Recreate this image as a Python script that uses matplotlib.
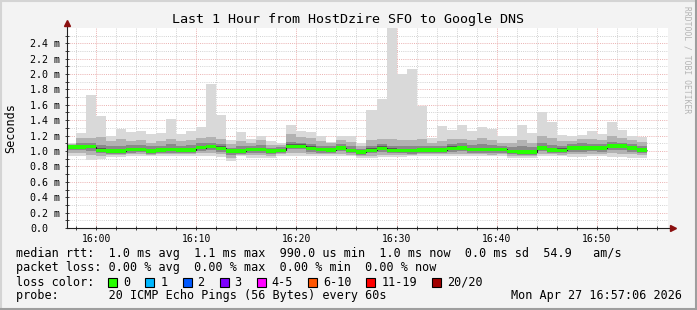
"""SmokePing style latency chart: last hour HostDzire SFO -> Google DNS.

Smoke bands are the spread of the 20 pings per round, green bar is the
median (colour = loss bucket 0).
"""
import numpy as np
import pandas as pd
import matplotlib
matplotlib.use("Agg")
import matplotlib.pyplot as plt
import matplotlib.dates as mdates
from matplotlib.lines import Line2D
from matplotlib.patches import Rectangle

TITLE = "Last 1 Hour from HostDzire SFO to Google DNS"
WINDOW_START = pd.Timestamp("2026-04-27 15:57:06")
WINDOW_END = pd.Timestamp("2026-04-27 16:57:06")
# end of each 60 s ping round; the first round is cut by the window start
ROUND_END = pd.date_range("2026-04-27 15:58", "2026-04-27 16:55", freq="min")

# rtt in ms, one value per round
rtt_max = [1.10, 1.24, 1.73, 1.45, 1.20, 1.29, 1.25, 1.26, 1.22, 1.23,
           1.42, 1.22, 1.26, 1.31, 1.87, 1.47, 1.14, 1.25, 1.15, 1.20,
           1.13, 1.10, 1.34, 1.26, 1.25, 1.20, 1.12, 1.20, 1.19, 1.10,
           1.53, 1.68, 2.75, 2.00, 2.06, 1.58, 1.17, 1.32, 1.27, 1.34,
           1.26, 1.31, 1.29, 1.20, 1.19, 1.34, 1.23, 1.51, 1.38, 1.21,
           1.19, 1.21, 1.26, 1.22, 1.38, 1.27, 1.20, 1.18]
rtt_p90 = [1.09, 1.17, 1.17, 1.18, 1.13, 1.15, 1.13, 1.14, 1.11, 1.13,
           1.16, 1.13, 1.14, 1.17, 1.18, 1.16, 1.09, 1.13, 1.11, 1.14,
           1.08, 1.08, 1.22, 1.18, 1.17, 1.13, 1.10, 1.14, 1.12, 1.07,
           1.14, 1.16, 1.15, 1.14, 1.14, 1.15, 1.11, 1.13, 1.15, 1.16,
           1.14, 1.17, 1.14, 1.11, 1.11, 1.14, 1.11, 1.19, 1.17, 1.13,
           1.13, 1.15, 1.15, 1.14, 1.20, 1.17, 1.14, 1.12]
rtt_p75 = [1.08, 1.10, 1.11, 1.08, 1.07, 1.07, 1.08, 1.08, 1.06, 1.07,
           1.09, 1.07, 1.08, 1.10, 1.11, 1.09, 1.04, 1.06, 1.07, 1.08,
           1.04, 1.05, 1.12, 1.11, 1.09, 1.07, 1.06, 1.09, 1.06, 1.03,
           1.07, 1.09, 1.07, 1.06, 1.06, 1.07, 1.06, 1.07, 1.09, 1.10,
           1.08, 1.09, 1.08, 1.07, 1.05, 1.06, 1.05, 1.11, 1.08, 1.07,
           1.09, 1.10, 1.09, 1.09, 1.12, 1.11, 1.09, 1.07]
rtt_p60 = [1.070, 1.075, 1.080, 1.035, 1.030, 1.030, 1.045, 1.045, 1.025, 1.040,
           1.045, 1.040, 1.040, 1.070, 1.080, 1.060, 1.020, 1.025, 1.045, 1.045,
           1.020, 1.030, 1.085, 1.085, 1.060, 1.045, 1.035, 1.065, 1.030, 1.010,
           1.035, 1.060, 1.035, 1.030, 1.030, 1.040, 1.035, 1.040, 1.060, 1.065,
           1.045, 1.045, 1.045, 1.045, 1.015, 1.010, 1.010, 1.065, 1.040, 1.035,
           1.065, 1.065, 1.065, 1.065, 1.090, 1.090, 1.065, 1.040]
rtt_median = [1.050, 1.050, 1.055, 1.010, 1.000, 1.000, 1.020, 1.020, 1.000, 1.015,
              1.020, 1.015, 1.015, 1.045, 1.058, 1.035, 1.000, 1.000, 1.020, 1.020,
              1.000, 1.010, 1.062, 1.062, 1.035, 1.020, 1.015, 1.040, 1.010, 0.986,
              1.010, 1.035, 1.009, 1.005, 1.005, 1.015, 1.015, 1.015, 1.035, 1.040,
              1.020, 1.020, 1.020, 1.020, 0.990, 0.985, 0.985, 1.040, 1.015, 1.010,
              1.040, 1.040, 1.040, 1.040, 1.065, 1.065, 1.040, 1.015]
rtt_p40 = [1.035, 1.035, 1.040, 0.995, 0.985, 0.985, 1.005, 1.005, 0.985, 1.000,
           1.005, 1.000, 1.000, 1.030, 1.040, 1.020, 0.985, 0.985, 1.005, 1.005,
           0.985, 0.995, 1.045, 1.045, 1.020, 1.005, 1.000, 1.025, 0.995, 0.970,
           0.995, 1.020, 0.995, 0.990, 0.990, 1.000, 1.000, 1.000, 1.020, 1.025,
           1.005, 1.005, 1.005, 1.005, 0.975, 0.970, 0.970, 1.025, 1.000, 0.995,
           1.025, 1.025, 1.025, 1.025, 1.050, 1.050, 1.025, 1.000]
rtt_p25 = [1.010, 1.010, 1.000, 0.970, 0.960, 0.965, 0.980, 0.985, 0.965, 0.980,
           0.980, 0.980, 0.975, 1.000, 1.010, 0.990, 0.950, 0.965, 0.975, 0.980,
           0.965, 0.975, 1.020, 1.020, 0.990, 0.980, 0.975, 0.995, 0.970, 0.945,
           0.970, 0.990, 0.970, 0.970, 0.965, 0.975, 0.975, 0.980, 0.990, 0.995,
           0.980, 0.980, 0.975, 0.980, 0.955, 0.950, 0.950, 1.000, 0.975, 0.970,
           0.990, 0.990, 0.995, 0.990, 1.010, 1.010, 0.990, 0.970]
rtt_p10 = [0.975, 0.970, 0.950, 0.940, 0.945, 0.950, 0.960, 0.960, 0.950, 0.955,
           0.955, 0.960, 0.955, 0.970, 0.970, 0.955, 0.910, 0.950, 0.945, 0.950,
           0.940, 0.955, 0.975, 0.970, 0.960, 0.955, 0.955, 0.965, 0.950, 0.930,
           0.940, 0.950, 0.950, 0.945, 0.950, 0.955, 0.960, 0.960, 0.960, 0.965,
           0.955, 0.955, 0.950, 0.955, 0.935, 0.935, 0.935, 0.965, 0.955, 0.950,
           0.955, 0.955, 0.965, 0.960, 0.970, 0.965, 0.955, 0.945]
rtt_min = [0.935, 0.935, 0.880, 0.900, 0.920, 0.920, 0.935, 0.930, 0.930, 0.930,
           0.930, 0.935, 0.930, 0.930, 0.930, 0.920, 0.866, 0.935, 0.910, 0.910,
           0.910, 0.930, 0.930, 0.930, 0.930, 0.930, 0.930, 0.930, 0.930, 0.905,
           0.905, 0.920, 0.920, 0.920, 0.930, 0.930, 0.935, 0.935, 0.930, 0.930,
           0.930, 0.930, 0.930, 0.930, 0.910, 0.910, 0.910, 0.930, 0.930, 0.930,
           0.920, 0.920, 0.935, 0.935, 0.920, 0.920, 0.910, 0.910]

Y_TICKS = [0.0, 0.2, 0.4, 0.6, 0.8, 1.0, 1.2, 1.4, 1.6, 1.8, 2.0, 2.2, 2.4]

LEGEND_LINES = [
    "median rtt:  1.0 ms avg  1.1 ms max  990.0 us min  1.0 ms now  0.0 ms sd  54.9   am/s",
    "packet loss: 0.00 % avg  0.00 % max  0.00 % min  0.00 % now",
]
PROBE_LINE = "probe:       20 ICMP Echo Pings (56 Bytes) every 60s"
STAMP = "Mon Apr 27 16:57:06 2026"
LOSS_LABELS = ["0", "1", "2", "3", "4-5", "6-10", "11-19", "20/20"]
LOSS_COLOURS = ["#26ff00", "#00b8ff", "#0059ff", "#7e00ff",
                "#ff00ff", "#ff5500", "#ff0000", "#a10000"]

W, H = 697, 310
MONO = "DejaVu Sans Mono"
BACK = "#f3f3f3"


def fx(px):
    return px / W


def fy(py):
    return 1 - py / H


def main():
    plt.rcParams["font.family"] = MONO
    fig = plt.figure(figsize=(W / 100, H / 100), dpi=100, facecolor=BACK)
    ax = fig.add_axes([fx(67), fy(228), fx(668) - fx(67), fy(27.8) - fy(228)])
    ax.set_facecolor("white")

    edges = mdates.date2num([WINDOW_START] + list(ROUND_END))

    # smoke, outermost pair of pings first
    bands = [
        (rtt_min, rtt_max, "#d9d9d9"),
        (rtt_p10, rtt_p90, "#b2b2b2"),
        (rtt_p25, rtt_p75, "#898989"),
        (rtt_p40, rtt_p60, "#5a5a5a"),
    ]
    for lo, hi, colour in bands:
        ax.stairs(hi, edges, baseline=lo, fill=True, color=colour,
                  linewidth=0, zorder=1)

    med = np.array(rtt_median)
    ax.stairs(med, edges, baseline=None, color="#202020", linewidth=0.8, zorder=1.4)
    half = 0.022  # half height of the median bar, ms
    ax.stairs(med + half, edges, baseline=med - half, fill=True,
              color=LOSS_COLOURS[0], linewidth=0, zorder=1.5)

    ax.set_xlim(mdates.date2num(WINDOW_START), mdates.date2num(WINDOW_END))
    ax.set_ylim(0, 2.6)

    ax.xaxis.set_major_locator(mdates.MinuteLocator(byminute=range(0, 60, 10)))
    ax.xaxis.set_minor_locator(mdates.MinuteLocator(byminute=range(0, 60, 2)))
    ax.xaxis.set_major_formatter(mdates.DateFormatter("%H:%M"))
    ax.set_yticks(Y_TICKS)
    ax.set_yticks(np.arange(0.1, 2.6, 0.2), minor=True)
    ax.set_yticklabels(["0.0" if v == 0 else f"{v:.1f} m" for v in Y_TICKS])

    ax.set_axisbelow(True)
    ax.grid(which="minor", color="#d2d2d2", linestyle=(0, (1, 1.2)), linewidth=0.7)
    ax.grid(which="major", color="#eab0b0", linestyle=(0, (1, 1.2)), linewidth=0.7)

    ax.tick_params(axis="x", which="both", direction="inout", length=3,
                   width=0.7, color="#404040", labelsize=7, pad=2.5)
    ax.tick_params(axis="y", which="both", direction="inout", length=3,
                   width=0.7, color="#404040", labelsize=7.2, pad=25.2)
    for lab in ax.get_yticklabels():
        lab.set_horizontalalignment("left")

    for side in ("top", "right", "left", "bottom"):
        ax.spines[side].set_visible(False)
    # axes with arrow heads, rrdtool style
    ax.plot([0, 0], [0, 1.02], transform=ax.transAxes, color="#202020",
            linewidth=0.8, clip_on=False, zorder=5)
    ax.plot([0, 1.008], [0, 0], transform=ax.transAxes, color="#202020",
            linewidth=0.8, clip_on=False, zorder=5)
    ax.plot([0], [1.022], marker="^", markersize=4.5, color="#8b1010",
            transform=ax.transAxes, clip_on=False, zorder=6)
    ax.plot([1.008], [0], marker=">", markersize=4.5, color="#8b1010",
            transform=ax.transAxes, clip_on=False, zorder=6)

    fig.text(fx(347.5), fy(20), TITLE, ha="center", va="center", fontsize=9.6)
    fig.text(fx(11), fy(128), "Seconds", rotation=90, ha="center",
             va="center", fontsize=8.5)
    fig.text(fx(687), fy(60), "RRDTOOL / TOBI OETIKER", rotation=270,
             ha="center", va="center", fontsize=5.8, color="#b4b4b4")

    for i, line in enumerate(LEGEND_LINES):
        fig.text(fx(16), fy(254 + 14 * i), line, ha="left", va="center", fontsize=8.5)
    fig.text(fx(16), fy(282), "loss color:", ha="left", va="center", fontsize=8.5)
    fig.text(fx(16), fy(296), PROBE_LINE, ha="left", va="center", fontsize=8.5)
    fig.text(fx(682), fy(296), STAMP, ha="right", va="center", fontsize=8.5)

    x = 108.3
    for label, colour in zip(LOSS_LABELS, LOSS_COLOURS):
        fig.add_artist(Rectangle((fx(x), fy(286.5)), 9 / W, 9 / H,
                                 transform=fig.transFigure, facecolor=colour,
                                 edgecolor="black", linewidth=0.8))
        fig.text(fx(x + 15), fy(282), label, ha="left", va="center", fontsize=8.5)
        x += 30 + 7.1 * len(label)

    # 3d frame round the picture
    for xs, ys, c in [((0, 1), (fy(0.8), fy(0.8)), "#d4d4d4"),
                      ((fx(0.8), fx(0.8)), (0, 1), "#d4d4d4"),
                      ((0, 1), (fy(309), fy(309)), "#9e9e9e"),
                      ((fx(696), fx(696)), (0, 1), "#9e9e9e")]:
        fig.add_artist(Line2D(xs, ys, transform=fig.transFigure, color=c, linewidth=1.5))

    fig.savefig("out.png", dpi=100, facecolor=BACK)


if __name__ == "__main__":
    main()
